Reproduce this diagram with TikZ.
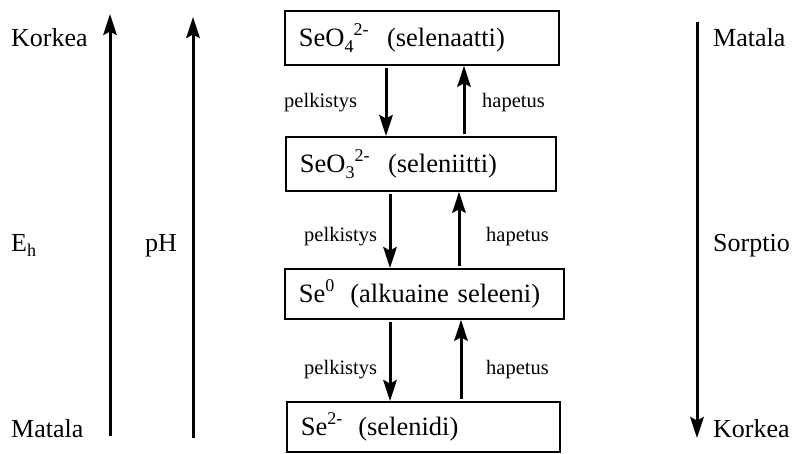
\documentclass[tikz,border=0pt]{standalone}
\usepackage{fontspec}
\setmainfont{Liberation Serif}
\usetikzlibrary{arrows.meta}
% raised and lowered indices set in a fixed smaller size
\newcommand\upidx[1]{\raisebox{0.42em}{\fontsize{18}{18}\selectfont #1}}
\newcommand\downidx[1]{\raisebox{-0.22em}{\fontsize{18}{18}\selectfont #1}}
\begin{document}
\begin{tikzpicture}[x=1pt,y=-1pt,
  arr/.style={line width=3pt,-{Stealth[length=21pt,width=13.5pt,inset=3.5pt]}},
  species/.style={draw,line width=1.8pt,anchor=north west,minimum height=54pt,
    inner xsep=14pt,inner ysep=0pt,align=left,font=\fontsize{26.5}{30}\selectfont},
  biglabel/.style={anchor=base west,inner sep=0pt,font=\fontsize{26}{30}\selectfont},
  steplabel/.style={anchor=west,inner sep=0pt,font=\fontsize{20.5}{24}\selectfont}]
\useasboundingbox (0,0) rectangle (797,453);

% species boxes
\node[species,text width=246pt] (b1) at (284,10) {SeO\downidx{4}\upidx{2-}\hspace{0.7em}(selenaatti)};
\node[species,text width=242pt] (b2) at (285,136) {SeO\downidx{3}\upidx{2-}\hspace{0.7em}(seleniitti)};
\node[species,text width=251pt,minimum height=50pt] (b3) at (284,268) {Se\upidx{0}\hspace{0.6em}(alkuaine seleeni)};
\node[species,text width=245pt,minimum height=50pt] (b4) at (286,401) {Se\upidx{2-}\hspace{0.6em}(selenidi)};

% x positions of the reaction arrows
\coordinate (r1) at (386,0);
\coordinate (o1) at (464,0);
\coordinate (r2) at (390,0);
\coordinate (o2) at (459,0);
\coordinate (r3) at (390,0);
\coordinate (o3) at (461,0);

\draw[arr,shorten <=2pt] (b1.south -| r1) -- (b2.north -| r1);
\draw[arr,shorten <=2pt] (b2.north -| o1) -- (b1.south -| o1);
\draw[arr,shorten <=2pt] (b2.south -| r2) -- (b3.north -| r2);
\draw[arr,shorten <=2pt] (b3.north -| o2) -- (b2.south -| o2);
\draw[arr,shorten <=2pt] (b3.south -| r3) -- (b4.north -| r3);
\draw[arr,shorten <=2pt] (b4.north -| o3) -- (b3.south -| o3);

\node[steplabel] (p1) at (284,103) {pelkistys};
\node[steplabel] (h1) at (482,103) {hapetus};
\node[steplabel] (p2) at (304,237) {pelkistys};
\node[steplabel] (h2) at (486,237) {hapetus};
\node[steplabel] (p3) at (304,370) {pelkistys};
\node[steplabel] (h3) at (486,370) {hapetus};

% redox potential and pH axes
\coordinate (e0) at (110,436);
\coordinate (e1) at (110,14);
\coordinate (ph0) at (193,438);
\coordinate (ph1) at (193,17);
\draw[arr] (e0) -- (e1);
\draw[arr] (ph0) -- (ph1);
\node[biglabel] (kl) at (11,46) {Korkea};
\node[biglabel] (ml) at (11,437) {Matala};
\node[biglabel] (eh) at (11,251) {E\downidx{h}};
\node[biglabel] (ph) at (145,251) {pH};

% sorption axis
\coordinate (s0) at (697,22);
\coordinate (s1) at (697,438);
\draw[arr] (s0) -- (s1);
\node[biglabel] (mr) at (713,46) {Matala};
\node[biglabel] (so) at (713,251) {Sorptio};
\node[biglabel] (kr) at (713,437) {Korkea};
\end{tikzpicture}
\end{document}
